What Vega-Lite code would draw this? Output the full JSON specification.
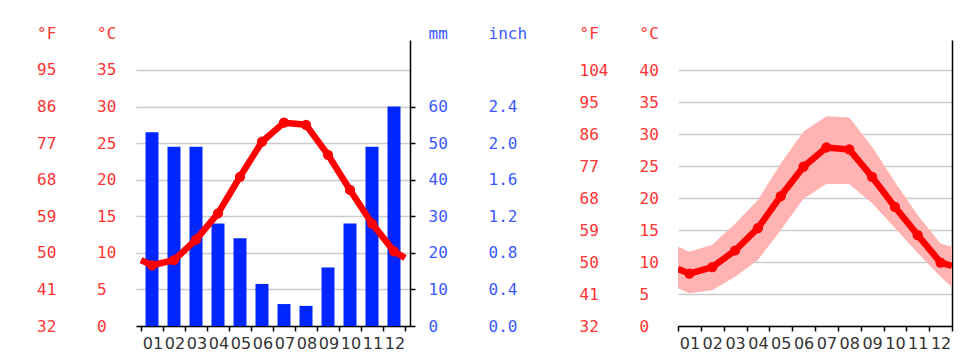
{
  "$schema": "https://vega.github.io/schema/vega-lite/v6.json",
  "background": "white",
  "padding": {"left": 36, "top": 25, "right": 0, "bottom": 0},
  "spacing": 52,
  "config": {
    "view": {"stroke": null},
    "axis": {"labelFont": "DejaVu Sans Mono", "titleFont": "DejaVu Sans Mono", "labelFontSize": 16, "titleFontSize": 16, "titleFontWeight": "normal", "grid": false}
  },
  "datasets": {
    "temp": [
      {"m": 0.5, "t": 9.0}, {"m": 1, "t": 8.3}, {"m": 2, "t": 9.0}, {"m": 3, "t": 11.8},
      {"m": 4, "t": 15.4}, {"m": 5, "t": 20.4}, {"m": 6, "t": 25.2}, {"m": 7, "t": 27.8},
      {"m": 8, "t": 27.5}, {"m": 9, "t": 23.4}, {"m": 10, "t": 18.6}, {"m": 11, "t": 14.0},
      {"m": 12, "t": 10.2}, {"m": 12.5, "t": 9.3}
    ],
    "precip": [
      {"m": 1, "p": 53}, {"m": 2, "p": 49}, {"m": 3, "p": 49}, {"m": 4, "p": 28},
      {"m": 5, "p": 24}, {"m": 6, "p": 11.5}, {"m": 7, "p": 6}, {"m": 8, "p": 5.5},
      {"m": 9, "p": 16}, {"m": 10, "p": 28}, {"m": 11, "p": 49}, {"m": 12, "p": 60}
    ],
    "range": [
      {"m": 0.5, "lo": 5.9, "mean": 8.9, "hi": 12.4},
      {"m": 1, "lo": 5.1, "mean": 8.2, "hi": 11.6},
      {"m": 2, "lo": 5.6, "mean": 9.2, "hi": 12.7},
      {"m": 3, "lo": 7.7, "mean": 11.8, "hi": 16.0},
      {"m": 4, "lo": 10.3, "mean": 15.3, "hi": 19.7},
      {"m": 5, "lo": 15.0, "mean": 20.3, "hi": 25.4},
      {"m": 6, "lo": 19.9, "mean": 24.9, "hi": 30.4},
      {"m": 7, "lo": 22.2, "mean": 27.9, "hi": 32.8},
      {"m": 8, "lo": 22.2, "mean": 27.6, "hi": 32.6},
      {"m": 9, "lo": 19.2, "mean": 23.3, "hi": 28.0},
      {"m": 10, "lo": 15.3, "mean": 18.6, "hi": 22.5},
      {"m": 11, "lo": 11.4, "mean": 14.2, "hi": 17.3},
      {"m": 12, "lo": 7.7, "mean": 9.9, "hi": 12.9},
      {"m": 12.5, "lo": 6.1, "mean": 9.4, "hi": 12.4}
    ]
  },
  "hconcat": [
    {
      "width": 274,
      "height": 286,
      "encoding": {
        "x": {
          "field": "m", "type": "quantitative",
          "scale": {"domain": [0.5, 12.5], "nice": false, "zero": false},
          "axis": {
            "values": [0.5, 1.5, 2.5, 3.5, 4.5, 5.5, 6.5, 7.5, 8.5, 9.5, 10.5, 11.5, 12.5],
            "labelExpr": "datum.value > 12 ? '' : (datum.value < 9 ? '0' : '') + (datum.value + 0.5)",
            "labelOffset": 11.4, "tickSize": 5, "tickColor": "black", "tickWidth": 1.5,
            "domainColor": "black", "domainWidth": 1.5, "labelFont": "DejaVu Sans",
            "labelFontSize": 16, "labelColor": "#333333", "labelPadding": 4,
            "labelFlush": false, "labelOverlap": false, "grid": false, "title": null
          }
        }
      },
      "layer": [
        {
          "data": {"name": "precip"},
          "mark": {"type": "bar", "color": "#0026ff", "size": 13},
          "encoding": {
            "y": {
              "field": "p", "type": "quantitative",
              "scale": {"domain": [0, 78.2], "nice": false},
              "axis": {
                "orient": "right", "values": [0, 10, 20, 30, 40, 50, 60],
                "domain": true, "domainColor": "black", "domainWidth": 1.5,
                "ticks": true, "tickSize": 5, "tickColor": "black", "tickWidth": 1.5,
                "labelPadding": 13, "labelAlign": "left", "labelColor": "#3a5aff", "grid": false,
                "title": "mm", "titleAngle": 0, "titleX": 18, "titleY": -2,
                "titleAlign": "left", "titleBaseline": "alphabetic", "titleColor": "#3a5aff"
              }
            }
          }
        },
        {
          "data": {"name": "precip"},
          "mark": {"type": "bar", "opacity": 0, "size": 13},
          "encoding": {
            "y": {
              "field": "p", "type": "quantitative",
              "scale": {"domain": [0, 78.2], "nice": false},
              "axis": {
                "orient": "right", "values": [0, 10, 20, 30, 40, 50, 60],
                "labelExpr": "format(datum.value * 0.04, '.1f')",
                "domain": false, "ticks": false, "tickSize": 0,
                "labelPadding": 78, "labelAlign": "left", "labelColor": "#3a5aff", "grid": false,
                "title": "inch", "titleAngle": 0, "titleX": 78, "titleY": -2,
                "titleAlign": "left", "titleBaseline": "alphabetic", "titleColor": "#3a5aff"
              }
            }
          }
        },
        {
          "data": {"name": "temp"},
          "mark": {"type": "line", "color": "#ff0000", "strokeWidth": 6.5, "strokeJoin": "round", "clip": true},
          "encoding": {
            "y": {
              "field": "t", "type": "quantitative",
              "scale": {"domain": [0, 39.1], "nice": false},
              "axis": {
                "orient": "left", "values": [0, 5, 10, 15, 20, 25, 30, 35],
                "domain": false, "ticks": false, "tickSize": 0,
                "labelPadding": 39.5, "labelAlign": "left", "labelColor": "#ff3333",
                "grid": true, "gridColor": "#cccccc", "gridWidth": 1.3,
                "title": "°C", "titleAngle": 0, "titleX": -39.5, "titleY": -2,
                "titleAlign": "left", "titleBaseline": "alphabetic", "titleColor": "#ff3333"
              }
            }
          }
        },
        {
          "data": {"name": "temp"},
          "transform": [{"filter": "datum.m >= 1 && datum.m <= 12"}],
          "mark": {"type": "circle", "color": "#ff0000", "size": 105, "opacity": 1},
          "encoding": {
            "y": {
              "field": "t", "type": "quantitative",
              "scale": {"domain": [0, 39.1], "nice": false},
              "axis": {
                "orient": "left", "values": [0, 5, 10, 15, 20, 25, 30, 35],
                "labelExpr": "format(datum.value * 9 / 5 + 32, 'd')",
                "domain": false, "ticks": false, "tickSize": 0,
                "labelPadding": 99.5, "labelAlign": "left", "labelColor": "#ff3333", "grid": false,
                "title": "°F", "titleAngle": 0, "titleX": -99.5, "titleY": -2,
                "titleAlign": "left", "titleBaseline": "alphabetic", "titleColor": "#ff3333"
              }
            }
          }
        }
      ],
      "resolve": {"scale": {"y": "independent"}, "axis": {"y": "independent"}}
    },
    {
      "width": 274,
      "height": 286,
      "data": {"name": "range"},
      "encoding": {
        "x": {
          "field": "m", "type": "quantitative",
          "scale": {"domain": [0.5, 12.5], "nice": false, "zero": false},
          "axis": {
            "values": [0.5, 1.5, 2.5, 3.5, 4.5, 5.5, 6.5, 7.5, 8.5, 9.5, 10.5, 11.5, 12.5],
            "labelExpr": "datum.value > 12 ? '' : (datum.value < 9 ? '0' : '') + (datum.value + 0.5)",
            "labelOffset": 11.4, "tickSize": 5, "tickColor": "black", "tickWidth": 1.5,
            "domainColor": "black", "domainWidth": 1.5, "labelFont": "DejaVu Sans",
            "labelFontSize": 16, "labelColor": "#333333", "labelPadding": 4,
            "labelFlush": false, "labelOverlap": false, "grid": false, "title": null
          }
        }
      },
      "layer": [
        {
          "mark": {"type": "area", "color": "#ffb3b3", "opacity": 1, "clip": true},
          "encoding": {
            "y": {
              "field": "lo", "type": "quantitative",
              "scale": {"domain": [0, 44.7], "nice": false},
              "axis": {
                "orient": "right", "domain": true, "domainColor": "black", "domainWidth": 1.5,
                "ticks": false, "labels": false, "grid": false, "title": null
              }
            },
            "y2": {"field": "hi"}
          }
        },
        {
          "mark": {"type": "line", "color": "#ff0000", "strokeWidth": 6.5, "strokeJoin": "round", "clip": true},
          "encoding": {
            "y": {
              "field": "mean", "type": "quantitative",
              "scale": {"domain": [0, 44.7], "nice": false},
              "axis": {
                "orient": "left", "values": [0, 5, 10, 15, 20, 25, 30, 35, 40],
                "domain": false, "ticks": false, "tickSize": 0,
                "labelPadding": 39, "labelAlign": "left", "labelColor": "#ff3333",
                "grid": true, "gridColor": "#cccccc", "gridWidth": 1.3,
                "title": "°C", "titleAngle": 0, "titleX": -39, "titleY": -2,
                "titleAlign": "left", "titleBaseline": "alphabetic", "titleColor": "#ff3333"
              }
            }
          }
        },
        {
          "transform": [{"filter": "datum.m >= 1 && datum.m <= 12"}],
          "mark": {"type": "circle", "color": "#ff0000", "size": 105, "opacity": 1},
          "encoding": {
            "y": {
              "field": "mean", "type": "quantitative",
              "scale": {"domain": [0, 44.7], "nice": false},
              "axis": {
                "orient": "left", "values": [0, 5, 10, 15, 20, 25, 30, 35, 40],
                "labelExpr": "format(datum.value * 9 / 5 + 32, 'd')",
                "domain": false, "ticks": false, "tickSize": 0,
                "labelPadding": 99, "labelAlign": "left", "labelColor": "#ff3333", "grid": false,
                "title": "°F", "titleAngle": 0, "titleX": -99, "titleY": -2,
                "titleAlign": "left", "titleBaseline": "alphabetic", "titleColor": "#ff3333"
              }
            }
          }
        }
      ],
      "resolve": {"axis": {"y": "independent"}}
    }
  ]
}
